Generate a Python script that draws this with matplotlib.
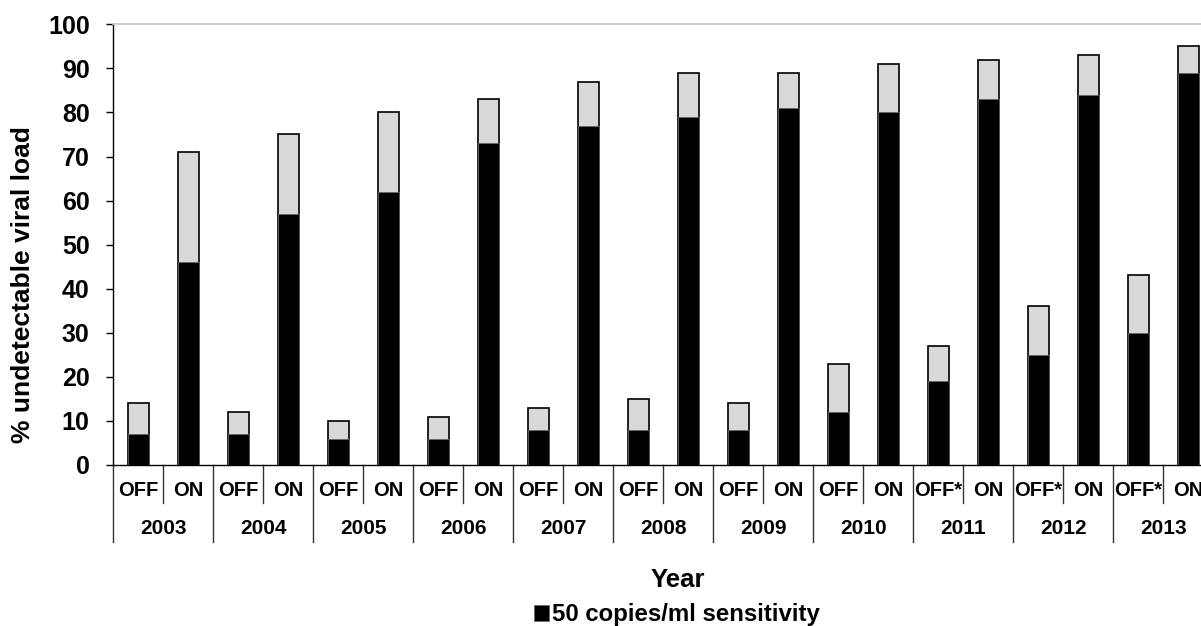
import matplotlib
matplotlib.use("Agg")
import matplotlib.pyplot as plt
import matplotlib.transforms as mtransforms

plt.rcParams['font.family'] = ['Liberation Sans', 'DejaVu Sans']
plt.rcParams['font.weight'] = 'bold'

years = ["2003", "2004", "2005", "2006", "2007", "2008", "2009", "2010", "2011", "2012", "2013"]
status = ["OFF", "ON", "OFF", "ON", "OFF", "ON", "OFF", "ON", "OFF", "ON", "OFF", "ON",
          "OFF", "ON", "OFF", "ON", "OFF*", "ON", "OFF*", "ON", "OFF*", "ON"]
# % undetectable at 50 copies/ml sensitivity (black)
sens_50 = [7, 46, 7, 57, 6, 62, 6, 73, 8, 77, 8, 79, 8, 81, 12, 80, 19, 83, 25, 84, 30, 89]
# % undetectable at the less sensitive threshold (grey, total height)
sens_other = [14, 71, 12, 75, 10, 80, 11, 83, 13, 87, 15, 89, 14, 89, 23, 91, 27, 92, 36, 93, 43, 95]
y_ticks = [0, 10, 20, 30, 40, 50, 60, 70, 80, 90, 100]

W, H = 1201, 626
fig = plt.figure(figsize=(W / 100, H / 100), dpi=100)
ax_left, ax_bottom_px, ax_top_px = 113.3, 465.0, 24.3
ax_w_px = 1100.0
ax = fig.add_axes([ax_left / W, 1 - ax_bottom_px / H, ax_w_px / W, (ax_bottom_px - ax_top_px) / H])

x = list(range(len(status)))
bw = 0.43
ax.bar(x, sens_other, width=bw, color='#D9D9D9', edgecolor='black', linewidth=1.2, zorder=2)
bars50 = ax.bar(x, sens_50, width=bw, color='black', edgecolor='#666666', linewidth=0.6, zorder=3,
                label='50 copies/ml sensitivity')

ax.set_xlim(-0.5, len(status) - 0.5)
ax.set_ylim(0, 100)
ax.set_yticks(y_ticks)
ax.set_yticklabels([str(v) for v in y_ticks], fontsize=18, fontweight='bold')
ax.tick_params(axis='y', direction='out', length=5, width=1, pad=12, colors='black')
ax.set_xticks([])

ax.spines['right'].set_visible(False)
ax.spines['top'].set_color('#C8C8C8')
ax.spines['top'].set_linewidth(1.2)
ax.spines['left'].set_linewidth(1.0)
ax.spines['bottom'].set_linewidth(1.0)

# multi-level category labels
trans = mtransforms.blended_transform_factory(ax.transData, ax.transAxes)
hpx = ax_bottom_px - ax_top_px
short_y = -(503 - ax_bottom_px) / hpx
long_y = -(542 - ax_bottom_px) / hpx
lab_y = -(490 - ax_bottom_px) / hpx
year_y = -(529 - ax_bottom_px) / hpx
for i, s in enumerate(status):
    ax.text(i, lab_y, s, transform=trans, ha='center', va='center', fontsize=14.5,
            fontweight='bold', clip_on=False)
for k, yr in enumerate(years):
    ax.text(2 * k + 0.5, year_y, yr, transform=trans, ha='center', va='center', fontsize=15,
            fontweight='bold', clip_on=False)
    ax.plot([2 * k - 0.5, 2 * k - 0.5], [0, long_y], transform=trans, color='#333333',
            linewidth=1.0, clip_on=False)
    ax.plot([2 * k + 0.5, 2 * k + 0.5], [0, short_y], transform=trans, color='#333333',
            linewidth=1.0, clip_on=False)

fig.text(678 / W, 1 - 580 / H, "Year", ha='center', va='center', fontsize=18.5, fontweight='bold')
fig.text(23 / W, 1 - 285 / H, "% undetectable viral load", rotation=90, ha='center', va='center',
         fontsize=19, fontweight='bold')

fig.legend(handles=[bars50], labels=['50 copies/ml sensitivity'], loc='center',
           bbox_to_anchor=(677 / W, 1 - 615 / H), frameon=False,
           prop={'weight': 'bold', 'size': 17.3}, handlelength=0.65, handleheight=0.65,
           handletextpad=0.12, borderpad=0, borderaxespad=0)

fig.savefig("out.png", dpi=100)
